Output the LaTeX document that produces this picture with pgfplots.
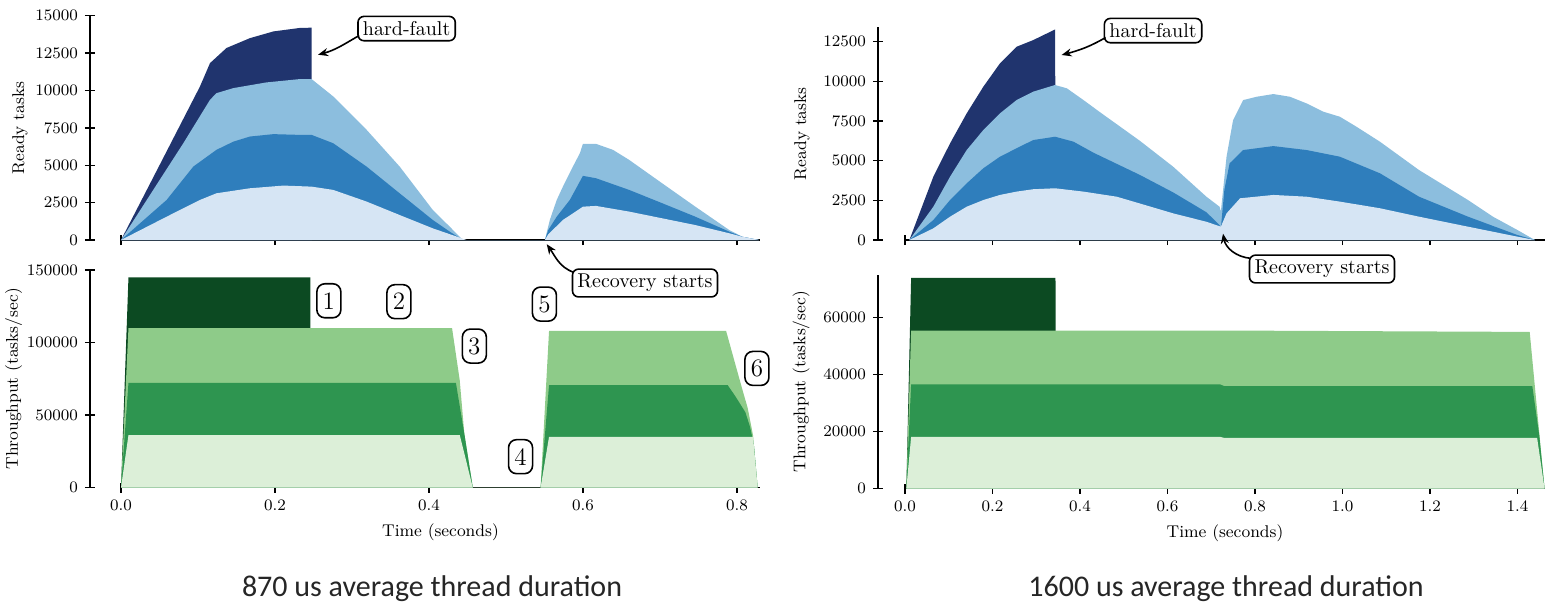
\documentclass[border=0pt]{standalone}
\usepackage{pgfplots}
\pgfplotsset{compat=1.18}
\usepackage{fontspec}
\newfontfamily\capfont{Carlito}
\usetikzlibrary{arrows.meta}
\definecolor{bNavy}{RGB}{32,52,110}
\definecolor{bLM}{RGB}{140,190,222}
\definecolor{bMid}{RGB}{47,126,188}
\definecolor{bLight}{RGB}{214,229,244}
\definecolor{gDark}{RGB}{12,74,34}
\definecolor{gLM}{RGB}{142,203,137}
\definecolor{gMid}{RGB}{46,149,80}
\definecolor{gLight}{RGB}{220,239,216}
\pgfplotsset{
 myaxis/.style={
  scale only axis, clip=false,
  axis x line*=bottom, axis y line*=left,
  tick align=center, major tick length=5pt,
  axis line style={line width=0.7pt},
  tick style={black, line width=0.7pt},
  ymin=0, xmin=0,
  scaled ticks=false,
  yticklabel style={/pgf/number format/fixed, /pgf/number format/set thousands separator={}},
  xticklabel style={/pgf/number format/fixed, /pgf/number format/fixed zerofill, /pgf/number format/precision=1},
  tick label style={font=\fontsize{8.5}{10}\selectfont},
  label style={font=\fontsize{8.5}{10}\selectfont},
 },
 ar/.style={draw=none, fill=#1},
}
\tikzset{
 bx/.style={draw, rounded corners=3pt, line width=0.8pt, inner sep=2.5pt, font=\rmfamily\fontsize{10}{12}\selectfont, fill=white},
 num/.style={draw, rounded corners=4pt, line width=0.8pt, inner sep=1.5pt, minimum height=17pt, minimum width=12pt, font=\rmfamily\fontsize{12.5}{14}\selectfont},
 arr/.style={-{Stealth[length=5pt,width=4pt]}, line width=0.8pt},
}
\begin{document}
\begin{tikzpicture}
\useasboundingbox (0,0) rectangle (774.5pt,-303.5pt);
% ---------------- top left ----------------
\begin{axis}[myaxis, at={(60.5pt,-120pt)}, anchor=south west,
  width=319.5pt, height=112.15pt, xmax=0.83, ymax=15000,
  axis y line shift=15.5pt,
  xtick={0,0.2,0.4,0.6,0.8}, xticklabels={},
  ytick={0,2500,5000,7500,10000,12500,15000},
  ylabel={Ready tasks}, ylabel shift=-3pt]
\addplot[ar=bNavy] coordinates {(0,0) (0.05,5000) (0.1026,10270) (0.1156,11830) (0.137,12840) (0.1675,13500) (0.198,13950) (0.232,14180) (0.2476,14200) (0.248,0)} \closedcycle;
\addplot[ar=bLM] coordinates {(0,0) (0.05,4000) (0.081,6475) (0.1156,9375) (0.124,9820) (0.146,10160) (0.189,10540) (0.232,10760) (0.2476,10760) (0.2757,9600) (0.319,7370) (0.362,4910) (0.405,2010) (0.427,890) (0.444,0)
 (0.5506,0) (0.557,1340) (0.566,2680) (0.574,3570) (0.587,4910) (0.596,5800) (0.6,6430) (0.617,6430) (0.639,6030) (0.66,5360) (0.703,3790) (0.746,2230) (0.79,670) (0.807,220) (0.829,0)} \closedcycle;
\addplot[ar=bMid] coordinates {(0,0) (0.0593,2680) (0.0939,4910) (0.124,6030) (0.146,6580) (0.1675,6920) (0.198,7080) (0.232,7030) (0.2476,7030) (0.2757,6470) (0.319,4910) (0.362,3120) (0.405,1340) (0.427,560) (0.444,0)
 (0.5506,0) (0.555,670) (0.566,1560) (0.583,2680) (0.6,4290) (0.617,4130) (0.66,3350) (0.703,2460) (0.746,1560) (0.79,560) (0.807,220) (0.829,0)} \closedcycle;
\addplot[ar=bLight] coordinates {(0,0) (0.0593,1560) (0.1026,2680) (0.124,3125) (0.1675,3460) (0.211,3640) (0.2476,3570) (0.2757,3350) (0.319,2570) (0.362,1670) (0.405,780) (0.449,0)
 (0.5506,0) (0.555,380) (0.574,1340) (0.6,2230) (0.617,2280) (0.66,1900) (0.703,1450) (0.746,1000) (0.79,450) (0.807,220) (0.829,0)} \closedcycle;
\node[bx] (hfL) at (axis cs:0.371,14140) {hard-fault};
\draw[arr] ([shift={(1pt,3pt)}]hfL.south west) to[out=210,in=15] (axis cs:0.256,12390);
\coordinate (recL) at (axis cs:0.553,-280);
\end{axis}
% ---------------- bottom left ----------------
\begin{axis}[myaxis, at={(60.5pt,-243.85pt)}, anchor=south west,
  width=319.5pt, height=108.85pt, xmax=0.83, ymax=150000,
  axis y line shift=15.5pt,
  xtick={0,0.2,0.4,0.6,0.8},
  ytick={0,50000,100000,150000},
  xlabel={Time (seconds)}, ylabel={Throughput (tasks/sec)}, ylabel shift=-4.5pt]
\addplot[ar=gDark] coordinates {(0,0) (0.0097,145000) (0.246,145000) (0.2465,0)} \closedcycle;
\addplot[ar=gLM] coordinates {(0,0) (0.0097,110000) (0.43,110000) (0.44,74000) (0.446,37000) (0.457,0) (0.545,0) (0.556,108000) (0.786,108000) (0.798,85000) (0.808,66000) (0.814,55000) (0.821,36000) (0.827,0)} \closedcycle;
\addplot[ar=gMid] coordinates {(0,0) (0.0097,72300) (0.435,72300) (0.446,37000) (0.457,0) (0.545,0) (0.556,70700) (0.788,70700) (0.798,63000) (0.811,52000) (0.817,42000) (0.822,30000) (0.827,0)} \closedcycle;
\addplot[ar=gLight] coordinates {(0,0) (0.0097,36300) (0.44,36300) (0.457,0) (0.545,0) (0.556,35000) (0.821,35000) (0.827,0)} \closedcycle;
\node[num] at (axis cs:0.270,128800) {1};
\node[num] at (axis cs:0.361,128200) {2};
\node[num] at (axis cs:0.459,97600) {3};
\node[num] at (axis cs:0.519,21400) {4};
\node[num] at (axis cs:0.550,126500) {5};
\node[num] at (axis cs:0.826,82200) {6};
\end{axis}
% ---------------- top right ----------------
\begin{axis}[myaxis, at={(452.5pt,-120pt)}, anchor=south west,
  width=320pt, height=106.3pt, xmax=1.463, ymax=13400,
  axis y line shift=13.5pt,
  xtick={0,0.2,0.4,0.6,0.8,1.0,1.2,1.4}, xticklabels={},
  ytick={0,2500,5000,7500,10000,12500},
  ylabel={Ready tasks}]
\addplot[ar=bNavy] coordinates {(0.01,0) (0.0648,3990) (0.103,6090) (0.141,7980) (0.179,9660) (0.217,11130) (0.255,12180) (0.293,12600) (0.343,13270) (0.345,0)} \closedcycle;
\addplot[ar=bLM] coordinates {(0.01,0) (0.0648,2100) (0.103,3990) (0.141,5670) (0.179,6930) (0.217,7980) (0.255,8820) (0.293,9350) (0.343,9770) (0.370,9560) (0.408,8820) (0.446,8050) (0.484,7300) (0.537,6250) (0.613,4620) (0.689,2730) (0.719,2100) (0.722,1790) (0.735,5250) (0.75,7560) (0.773,8820) (0.804,9030) (0.842,9200) (0.88,9030) (0.918,8610) (0.956,8090) (0.994,7770) (1.032,7140) (1.086,6190) (1.175,4410) (1.287,2520) (1.344,1470) (1.4,630) (1.44,0)} \closedcycle;
\addplot[ar=bMid] coordinates {(0.01,0) (0.0648,1260) (0.103,2520) (0.141,3570) (0.179,4520) (0.217,5250) (0.255,5780) (0.293,6300) (0.343,6510) (0.385,6200) (0.431,5500) (0.484,4800) (0.537,4100) (0.613,3000) (0.689,1750) (0.719,940) (0.722,730) (0.73,3150) (0.742,4830) (0.773,5670) (0.842,5920) (0.918,5670) (0.994,5250) (1.086,4200) (1.175,2730) (1.287,1470) (1.4,315) (1.44,0)} \closedcycle;
\addplot[ar=bLight] coordinates {(0.01,0) (0.0648,735) (0.103,1470) (0.141,2100) (0.179,2520) (0.217,2840) (0.255,3050) (0.293,3200) (0.343,3260) (0.408,3050) (0.484,2730) (0.537,2300) (0.613,1680) (0.689,1150) (0.722,840) (0.735,1680) (0.766,2630) (0.842,2840) (0.918,2730) (0.994,2420) (1.086,2000) (1.175,1470) (1.287,840) (1.4,210) (1.44,0)} \closedcycle;
\node[bx] (hfR) at (axis cs:0.567,13200) {hard-fault};
\draw[arr] ([shift={(1pt,3pt)}]hfR.south west) to[out=210,in=15] (axis cs:0.358,11660);
\coordinate (recR) at (axis cs:0.727,400);
\end{axis}
% ---------------- bottom right ----------------
\begin{axis}[myaxis, at={(452.5pt,-244.35pt)}, anchor=south west,
  width=320pt, height=106.9pt, xmax=1.463, ymax=75000,
  axis y line shift=13.5pt,
  xtick={0,0.2,0.4,0.6,0.8,1.0,1.2,1.4},
  ytick={0,20000,40000,60000},
  xlabel={Time (seconds)}, ylabel={Throughput (tasks/sec)}]
\addplot[ar=gDark] coordinates {(0.003,0) (0.014,74000) (0.344,74000) (0.345,0)} \closedcycle;
\addplot[ar=gLM] coordinates {(0.003,0) (0.014,55500) (0.72,55500) (1.428,55000) (1.462,0)} \closedcycle;
\addplot[ar=gMid] coordinates {(0.003,0) (0.014,36600) (0.72,36600) (0.73,36000) (1.434,36000) (1.45,18500) (1.462,0)} \closedcycle;
\addplot[ar=gLight] coordinates {(0.003,0) (0.014,18200) (0.72,18200) (0.73,17800) (1.445,17800) (1.462,0)} \closedcycle;
\end{axis}
% ---------------- recovery annotations ----------------
\node[bx] (rsL) at (322.5pt,-141.5pt) {Recovery starts};
\draw[arr] ([shift={(1pt,-2pt)}]rsL.north west) to[out=160,in=-55] (recL);
\node[bx] (rsR) at (661pt,-134.5pt) {Recovery starts};
\draw[arr] ([shift={(1pt,-2pt)}]rsR.north west) to[out=175,in=-80] (recR);
% ---------------- captions ----------------
\node[anchor=base, font=\capfont\fontsize{15}{18}\selectfont, text=black!85] at (216pt,-298pt) {870 us average thread duration};
\node[anchor=base, font=\capfont\fontsize{15}{18}\selectfont, text=black!85] at (613pt,-298pt) {1600 us average thread duration};
\end{tikzpicture}
\end{document}
